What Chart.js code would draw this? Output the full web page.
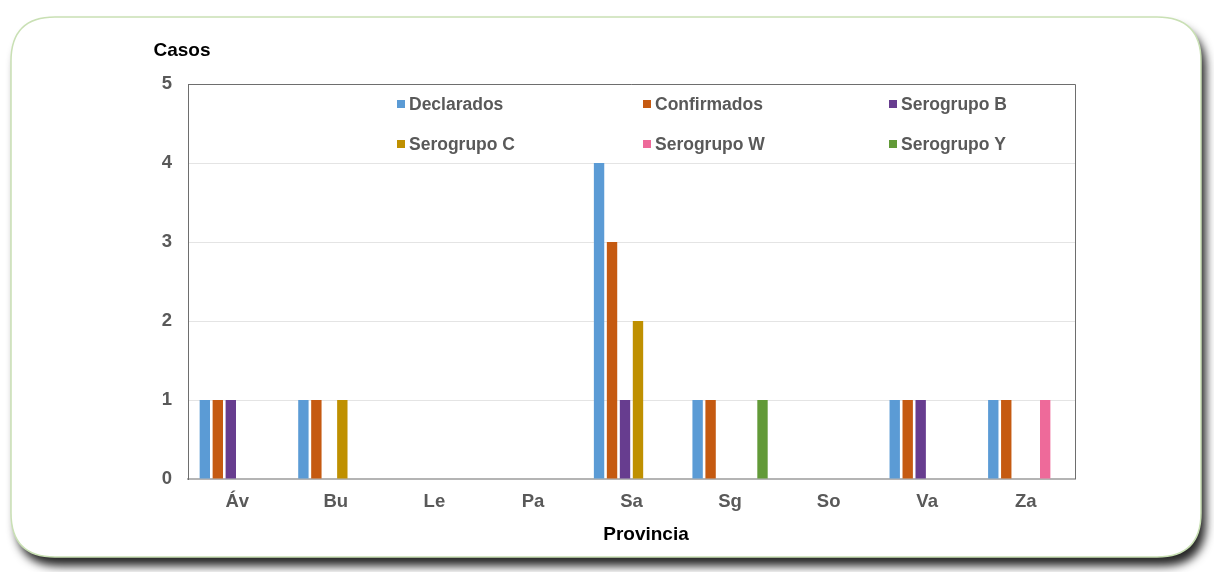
<!DOCTYPE html>
<html>
<head>
<meta charset="utf-8">
<script src="https://cdn.jsdelivr.net/npm/chart.js@4/dist/chart.umd.min.js"></script>
<style>
  html, body { margin: 0; padding: 0; background: #ffffff; }
  #wrap { width: 1214px; height: 572px; position: relative; }
</style>
</head>
<body>
<div id="wrap"><canvas id="c" width="1214" height="572"></canvas></div>
<script>
// Provinces (x categories)
const provincias = ['Áv', 'Bu', 'Le', 'Pa', 'Sa', 'Sg', 'So', 'Va', 'Za'];

// Cases per series
const declarados  = [1, 1, 0, 0, 4, 1, 0, 1, 1];
const confirmados = [1, 1, 0, 0, 3, 1, 0, 1, 1];
const serogrupoB  = [1, 0, 0, 0, 1, 0, 0, 1, 0];
const serogrupoC  = [0, 1, 0, 0, 2, 0, 0, 0, 0];
const serogrupoW  = [0, 0, 0, 0, 0, 0, 0, 0, 1];
const serogrupoY  = [0, 0, 0, 0, 0, 1, 0, 0, 0];

// Y axis ticks
const yTicks = [0, 1, 2, 3, 4, 5];

const seriesNames  = ['Declarados', 'Confirmados', 'Serogrupo B', 'Serogrupo C', 'Serogrupo W', 'Serogrupo Y'];
const seriesData   = [declarados, confirmados, serogrupoB, serogrupoC, serogrupoW, serogrupoY];
const seriesColors = ['#5B9BD5', '#C55A11', '#673D8F', '#BF9000', '#EE6A9A', '#629A38'];

const FONT = '"Liberation Sans", Arial, sans-serif';
const GREY = '#595959';

// Rounded, shadowed card behind the chart
const cardPlugin = {
  id: 'card',
  beforeDraw(chart) {
    const ctx = chart.ctx;
    const x = 11, y = 17, w = 1190, h = 540, r = 44;
    ctx.save();
    ctx.beginPath();
    ctx.moveTo(x + r, y);
    ctx.lineTo(x + w - r, y);
    ctx.quadraticCurveTo(x + w, y, x + w, y + r);
    ctx.lineTo(x + w, y + h - r);
    ctx.quadraticCurveTo(x + w, y + h, x + w - r, y + h);
    ctx.lineTo(x + r, y + h);
    ctx.quadraticCurveTo(x, y + h, x, y + h - r);
    ctx.lineTo(x, y + r);
    ctx.quadraticCurveTo(x, y, x + r, y);
    ctx.closePath();
    ctx.shadowColor = 'rgba(0,0,0,0.85)';
    ctx.shadowBlur = 10;
    ctx.shadowOffsetX = 5;
    ctx.shadowOffsetY = 9;
    ctx.fillStyle = '#ffffff';
    ctx.fill();
    ctx.shadowColor = 'transparent';
    ctx.lineWidth = 1.5;
    ctx.strokeStyle = '#C9E0B4';
    ctx.stroke();
    ctx.restore();
  }
};

// Plot frame, axis titles and the two-row legend
const decorPlugin = {
  id: 'decor',
  afterDatasetsDraw(chart) {
    const ctx = chart.ctx;
    const a = chart.chartArea;
    ctx.save();
    // frame: top and right sides
    ctx.strokeStyle = '#6E6E6E';
    ctx.lineWidth = 1;
    ctx.beginPath();
    ctx.moveTo(a.left, a.top + 0.5);
    ctx.lineTo(a.right + 0.5, a.top + 0.5);
    ctx.lineTo(a.right + 0.5, a.bottom);
    ctx.stroke();

    // axis titles
    ctx.fillStyle = '#000000';
    ctx.font = 'bold 19px ' + FONT;
    ctx.textAlign = 'center';
    ctx.textBaseline = 'middle';
    ctx.fillText('Casos', 182, 51);
    ctx.fillText('Provincia', 646, 535);

    // legend, 3 columns x 2 rows
    const cols = [398, 644, 890];
    const rows = [104, 144];
    ctx.font = 'bold 17.5px ' + FONT;
    ctx.textAlign = 'left';
    chart.data.datasets.forEach((ds, i) => {
      const cx = cols[i % 3], cy = rows[Math.floor(i / 3)];
      ctx.fillStyle = ds.backgroundColor;
      ctx.fillRect(cx - 1, cy - 4, 8, 8);
      ctx.fillStyle = GREY;
      ctx.fillText(ds.label, cx + 11, cy + 1);
    });
    ctx.restore();
  }
};

new Chart(document.getElementById('c'), {
  type: 'bar',
  data: {
    labels: provincias,
    datasets: seriesNames.map((name, i) => ({
      label: name,
      data: seriesData[i],
      backgroundColor: seriesColors[i],
      borderWidth: 0,
      barPercentage: 0.8,
      categoryPercentage: 0.79
    }))
  },
  options: {
    responsive: false,
    animation: false,
    devicePixelRatio: 1,
    layout: { padding: { left: 150, top: 84, right: 139, bottom: 10 } },
    plugins: {
      legend: { display: false },
      tooltip: { enabled: false }
    },
    scales: {
      x: {
        grid: { display: false, drawTicks: false },
        border: { display: true, color: '#B4B4B4', width: 2 },
        ticks: { color: GREY, font: { family: FONT, size: 18.5, weight: 'bold' }, padding: 12 },
        afterFit(scale) { scale.height = 83; }
      },
      y: {
        min: 0,
        max: 5,
        afterBuildTicks(scale) { scale.ticks = yTicks.map(v => ({ value: v })); },
        grid: { color: '#E4E4E4', lineWidth: 1, drawTicks: false },
        border: { display: true, color: '#6E6E6E', width: 1 },
        ticks: { color: GREY, font: { family: FONT, size: 18.5, weight: 'bold' }, padding: 16 },
        afterFit(scale) { scale.width = 38; }
      }
    }
  },
  plugins: [cardPlugin, decorPlugin]
});
</script>
</body>
</html>
